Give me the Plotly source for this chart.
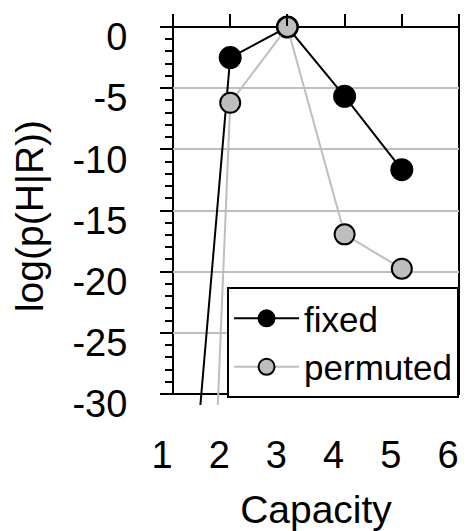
import plotly.graph_objects as go

capacity = [1, 2, 3, 4, 5]
fixed = [-57.0, -2.5, 0.0, -5.67, -11.66]
permuted = [-120.0, -6.2, 0.0, -16.95, -19.76]
x_ticks = [1, 2, 3, 4, 5, 6]
y_ticks = [0, -5, -10, -15, -20, -25, -30]
y_ticktext = ["0", "-5", "-10", "-15", "-20", "-25", "-30"]
grid_vals = [-5, -10, -15, -20, -25]

GRAY = "#bebebe"
FONT = "Liberation Sans, Arial, sans-serif"
Y_LOW, Y_HIGH = -30.9, 0.0      # axis range (lines clip a little below -30)
BOX_LOW = -30.0                 # bottom of the drawn frame

fig = go.Figure()
fig.add_trace(go.Scatter(
    x=capacity, y=fixed, name="fixed", mode="lines+markers",
    line=dict(color="black", width=2),
    marker=dict(size=21, color="black", line=dict(color="black", width=2)),
    cliponaxis=False,
))
fig.add_trace(go.Scatter(
    x=capacity, y=permuted, name="permuted", mode="lines+markers",
    line=dict(color=GRAY, width=2),
    marker=dict(size=20, color=GRAY, line=dict(color="black", width=2)),
    cliponaxis=False,
))
# helper (invisible) trace so the overlay axes are laid out
fig.add_trace(go.Scatter(x=[1, 6], y=[None, None], xaxis="x2", yaxis="y2",
                         showlegend=False, hoverinfo="skip", mode="lines"))

# frame of the plot (paper coordinates so it is not clipped)
box_bottom = (BOX_LOW - Y_LOW) / (Y_HIGH - Y_LOW)
fig.add_shape(type="rect", xref="paper", yref="paper", x0=0, x1=1,
              y0=box_bottom, y1=1, line=dict(color="black", width=2),
              layer="below")

# the page body has an 8px margin, so the figure is 8px smaller
fig.update_layout(
    width=461, height=523,
    margin=dict(l=165, r=10, t=19, b=126),
    paper_bgcolor="white", plot_bgcolor="rgba(0,0,0,0)",
    font=dict(family=FONT, color="black", size=38),
    showlegend=True,
    legend=dict(
        x=0.189, y=0.312, xanchor="left", yanchor="top",
        bgcolor="white", bordercolor="black", borderwidth=2,
        font=dict(size=35, family=FONT, color="black"),
        itemwidth=65, entrywidth=244,
    ),
    xaxis=dict(
        range=[1, 6], tickvals=x_ticks, ticks="", showline=False,
        showgrid=False, zeroline=False, automargin=False,
        tickfont=dict(size=38),
        ticklabelshift=-11, ticklabelstandoff=24,
        title=dict(text="Capacity", font=dict(size=39), standoff=23),
    ),
    xaxis2=dict(
        range=[1, 6], tickvals=x_ticks, overlaying="x", side="top", anchor="y2",
        ticks="outside", ticklen=12, tickwidth=2, tickcolor="black",
        showticklabels=False, showgrid=False, zeroline=False, showline=False,
        automargin=False,
    ),
    yaxis=dict(
        range=[Y_LOW, Y_HIGH], tickvals=y_ticks, ticktext=y_ticktext,
        ticks="outside", ticklen=12,
        tickwidth=2, tickcolor="black", showline=False, zeroline=False,
        showgrid=False, automargin=False,
        tickfont=dict(size=38),
        ticklabelshift=10, ticklabelstandoff=25,
        minor=dict(dtick=1, tick0=0, ticks="outside", ticklen=7, tickwidth=2,
                   tickcolor="black", showgrid=False),
        title=dict(text="log(p(H|R))", font=dict(size=39), standoff=16),
    ),
    yaxis2=dict(
        range=[Y_LOW, Y_HIGH], tickvals=grid_vals, overlaying="y", anchor="x2",
        side="left", ticks="", showticklabels=False, showline=False,
        zeroline=False, showgrid=True, gridcolor=GRAY, gridwidth=2,
        automargin=False,
    ),
)

fig.write_html("out.html")
